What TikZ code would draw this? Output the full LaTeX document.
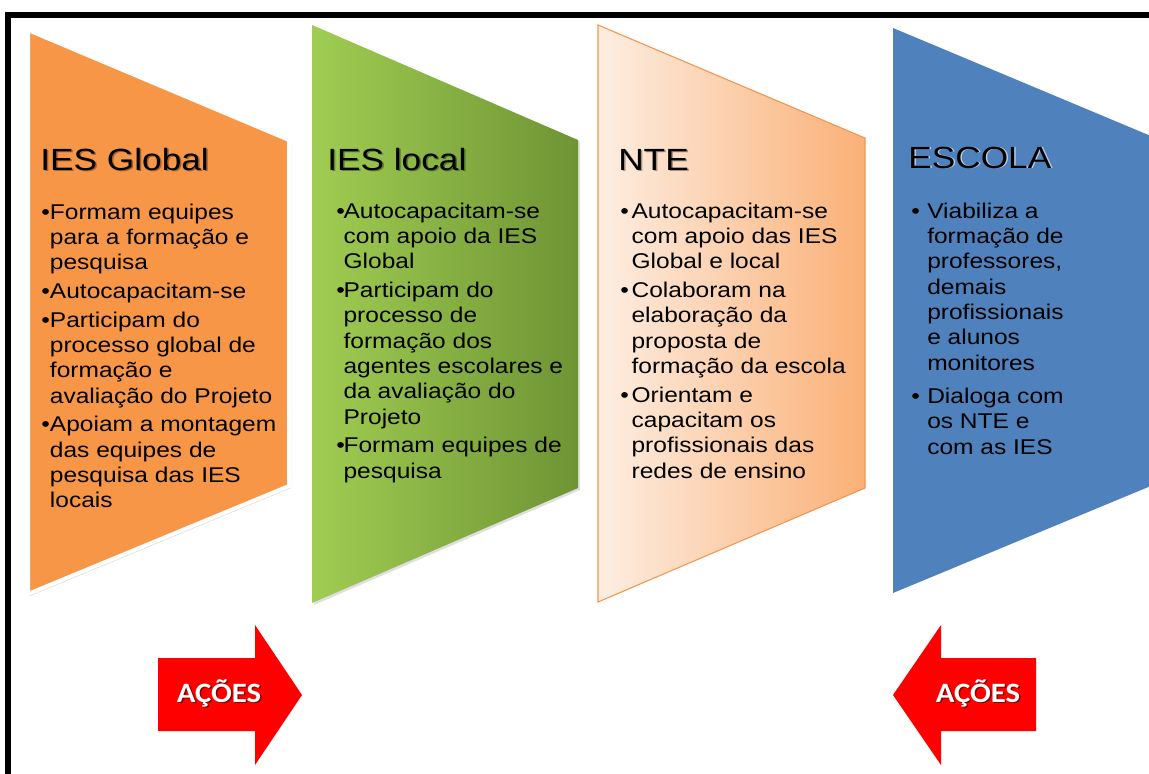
\documentclass[tikz,border=0pt]{standalone}
\usepackage{fontspec}
\setmainfont{Liberation Sans}
\newfontfamily\bodyfont[FakeStretch=1.15]{Liberation Sans}
\newfontfamily\acfont[FakeStretch=1.1]{Carlito}
\usetikzlibrary{shadows}
\definecolor{ora}{RGB}{247,150,70}
\definecolor{grL}{RGB}{160,205,82}
\definecolor{grR}{RGB}{110,148,52}
\definecolor{nteL}{RGB}{253,238,226}
\definecolor{nteR}{RGB}{250,176,118}
\definecolor{nteB}{RGB}{240,150,80}
\definecolor{blu}{RGB}{79,129,189}
\definecolor{redA}{RGB}{255,0,0}
\newlength\bind
\newcommand\bl{\makebox[\bind][l]{•}}
\newcommand\ind{\hspace*{\bind}}
\tikzset{
  bodytext/.style={anchor=north west, inner sep=0pt, align=left,
    font=\bodyfont\fontsize{16}{19}\selectfont, text=black},
  ttl/.style={anchor=base west, inner sep=0pt,
    font=\bodyfont\fontsize{23}{27}\selectfont},
  ttlshadow/.style={ttl, text=black, opacity=0.35},
  acoes/.style={inner sep=0pt, font=\acfont\bfseries\fontsize{21}{25}\selectfont, text=white},
  acoesshadow/.style={acoes, text=black, opacity=0.5},
  redarrow/.style={fill=redA, draw=none},
  frame/.style={fill=black, draw=none},
}
\begin{document}
\begin{tikzpicture}[x=0.75pt, y=-0.75pt]
\useasboundingbox (0,0) rectangle (1149,774);
\clip (0,0) rectangle (1149,774);

% frame
\fill[frame] (5,12) rectangle (1149,18);
\fill[frame] (5,12) rectangle (11,774);

% shapes
\path[fill=ora, draw=white, line width=3pt,
  drop shadow={shadow xshift=1.5pt, shadow yshift=-1.5pt, opacity=0.3}]
  (28,30) -- (289,140) -- (289,486) -- (28,594) -- cycle;
\path[left color=grL, right color=grR, draw=none,
  drop shadow={shadow xshift=1.5pt, shadow yshift=-1.5pt, opacity=0.25}]
  (312,25) -- (578,140) -- (578,488) -- (312,603) -- cycle;
\path[left color=nteL, right color=nteR, draw=nteB, line width=0.8pt]
  (598,25) -- (865,138) -- (865,488) -- (598,602) -- cycle;
\path[fill=blu, draw=none]
  (893,28) -- (1158,139) -- (1158,483) -- (893,593) -- cycle;

% titles
\node[ttlshadow] at (41.5,171.5) {IES Global};
\node[ttl] (t1) at (40,170) {IES Global};
\node[ttlshadow] at (328.5,171.5) {IES local};
\node[ttl] (t2) at (327,170) {IES local};
\node[ttlshadow] at (619.5,171.5) {NTE};
\node[ttl] (t3) at (618,170) {NTE};
\node[ttl, text=white, opacity=0.6] at (909.5,168.5) {ESCOLA};
\node[ttl] (t4) at (908,168) {ESCOLA};

% lists
\global\bind=6.5pt
\node[bodytext] (l1) at (41,201) {%
\strut\bl Formam equipes\\ \ind para a formação e\\ \ind pesquisa\\[2.5pt]
\bl Autocapacitam-se\\[2.5pt]
\bl Participam do\\ \ind processo global de\\ \ind formação e\\ \ind avaliação do Projeto\\[2.5pt]
\bl Apoiam a montagem\\ \ind das equipes de\\ \ind pesquisa das IES\\ \ind locais};

\global\bind=5.5pt
\node[bodytext] (l2) at (336,200) {%
\strut\bl Autocapacitam-se\\ \ind com apoio da IES\\ \ind Global\\[2.5pt]
\bl Participam do\\ \ind processo de\\ \ind formação dos\\ \ind agentes escolares e\\ \ind da avaliação do\\ \ind Projeto\\[2.5pt]
\bl Formam equipes de\\ \ind pesquisa};

\global\bind=8.5pt
\node[bodytext] (l3) at (620,200) {%
\strut\bl Autocapacitam-se\\ \ind com apoio das IES\\ \ind Global e local\\[2.5pt]
\bl Colaboram na\\ \ind elaboração da\\ \ind proposta de\\ \ind formação da escola\\[2.5pt]
\bl Orientam e\\ \ind capacitam os\\ \ind profissionais das\\ \ind redes de ensino};

\global\bind=12pt
\node[bodytext] (l4) at (911,200) {%
\strut\bl Viabiliza a\\ \ind formação de\\ \ind professores,\\ \ind demais\\ \ind profissionais\\ \ind e alunos\\ \ind monitores\\[6pt]
\bl Dialoga com\\ \ind os NTE e\\ \ind com as IES};

% arrows
\fill[redarrow] (158,658) -- (255,658) -- (255,625) -- (302,695) -- (255,765) -- (255,731) -- (158,731) -- cycle;
\fill[redarrow] (1036,658) -- (941,658) -- (941,625) -- (893,695) -- (941,765) -- (941,731) -- (1036,731) -- cycle;
\node[acoesshadow] at (220.5,694.5) {AÇÕES};
\node[acoes] (a1) at (219,693) {AÇÕES};
\node[acoesshadow] at (979.5,694.5) {AÇÕES};
\node[acoes] (a2) at (978,693) {AÇÕES};
\end{tikzpicture}
\end{document}
